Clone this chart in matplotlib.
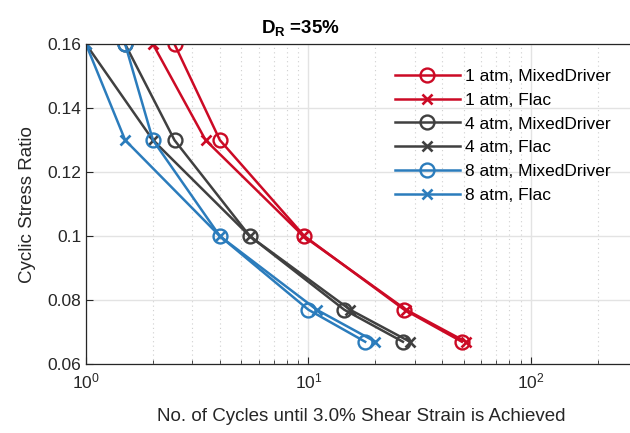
import matplotlib
matplotlib.use("Agg")
import matplotlib.pyplot as plt
from matplotlib.ticker import LogLocator, NullFormatter

plt.rcParams['font.family'] = ['Liberation Sans', 'DejaVu Sans']
plt.rcParams['mathtext.fontset'] = 'custom'
plt.rcParams['mathtext.rm'] = 'Liberation Sans'
plt.rcParams['mathtext.bf'] = 'Liberation Sans:bold'

# cyclic stress ratio levels
csr = [0.16, 0.13, 0.10, 0.077, 0.067]

# cycles to 3% shear strain
n_1atm_md = [2.5, 4.0, 9.6, 27, 49]
n_1atm_flac = [2.0, 3.45, 9.5, 27.5, 51]
n_4atm_md = [1.5, 2.5, 5.45, 14.5, 26.6]
n_4atm_flac = [1.0, 2.0, 5.45, 15.4, 28.6]
n_8atm_md = [1.5, 2.0, 4.0, 10.0, 18.0]
n_8atm_flac = [1.0, 1.5, 4.0, 10.9, 20.0]

labels = ["1 atm, MixedDriver", "1 atm, Flac", "4 atm, MixedDriver",
          "4 atm, Flac", "8 atm, MixedDriver", "8 atm, Flac"]
series = [n_1atm_md, n_1atm_flac, n_4atm_md, n_4atm_flac, n_8atm_md, n_8atm_flac]

red = '#CC0A25'
grey = '#404040'
blue = '#2B7CBC'
colors = [red, red, grey, grey, blue, blue]
markers = ['o', 'x', 'o', 'x', 'o', 'x']

fig = plt.figure(figsize=(6.3, 4.33), dpi=100)
ax = fig.add_axes([0.1365, 0.159, 0.8735, 0.739])

for n, lab, c, m in zip(series, labels, colors, markers):
    if m == 'o':
        ax.plot(n, csr, color=c, lw=1.8, marker='o', ms=10, mfc='none', mew=1.7, label=lab)
    else:
        ax.plot(n, csr, color=c, lw=1.8, marker='x', ms=7, mew=1.9, label=lab)

ax.set_xscale('log')
ax.set_xlim(1, 298)
ax.set_ylim(0.06, 0.16)
ax.set_yticks([0.06, 0.08, 0.1, 0.12, 0.14, 0.16])
ax.set_yticklabels(['0.06', '0.08', '0.1', '0.12', '0.14', '0.16'])
ax.xaxis.set_minor_locator(LogLocator(base=10, subs=range(2, 10)))
ax.xaxis.set_minor_formatter(NullFormatter())

ax.grid(True, which='major', color='#e3e3e3', lw=1.0)
ax.grid(True, which='minor', axis='x', color='#cfcfcf', lw=0.8, ls=(0, (1, 3)))
ax.set_axisbelow(True)
ax.tick_params(axis='both', which='both', direction='in', labelsize=12.5, colors='#262626')
ax.tick_params(axis='x', which='major', length=5, pad=5)
ax.tick_params(axis='x', which='minor', length=3)
ax.tick_params(axis='y', length=5)
for s in ax.spines.values():
    s.set_color('#262626')
    s.set_linewidth(0.9)

ax.set_xlabel('No. of Cycles until 3.0% Shear Strain is Achieved', fontsize=13.5, color='#262626', labelpad=12)
ax.set_ylabel('Cyclic Stress Ratio', fontsize=13.5, color='#262626', labelpad=8)
ax.set_title(r'$\mathbf{D_R}$ =35%', fontsize=13.5, fontweight='bold', x=0.39, pad=8)

ax.legend(loc='upper left', bbox_to_anchor=(0.548, 0.945), frameon=False, fontsize=12.5,
          handlelength=3.8, handletextpad=0.25, labelspacing=0.5, borderaxespad=0)

fig.savefig('out.png', dpi=100)
